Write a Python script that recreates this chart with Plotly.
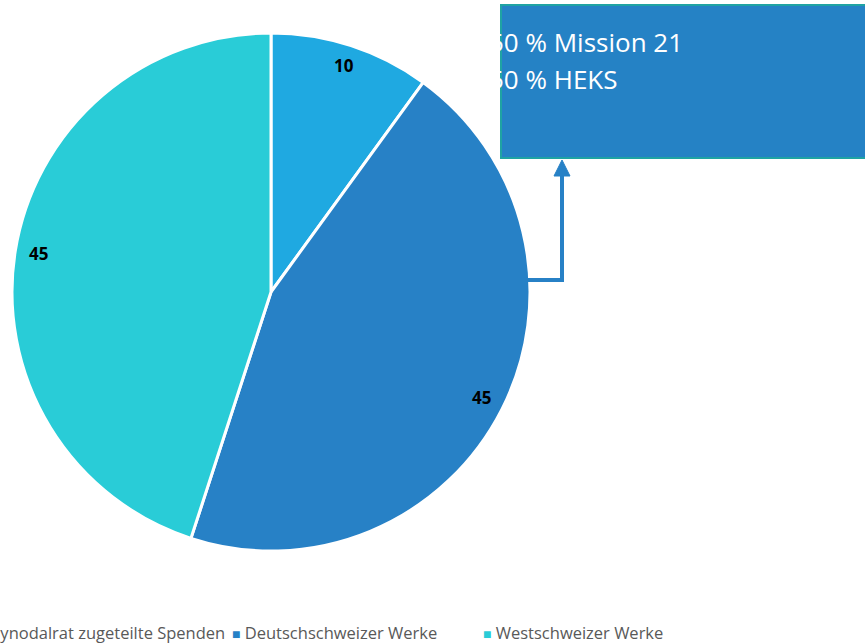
import math
import plotly.graph_objects as go

# Verteilung der Spenden (Prozent)
categories = ["Vom Synodalrat zugeteilte Spenden", "Deutschschweizer Werke", "Westschweizer Werke"]
values = [10, 45, 45]
colors = ["#1FA9E1", "#2781C6", "#29CCD7"]
callout_lines = ["50 % Mission 21", "50 % HEKS"]

W, H = 865, 643
CX, CY, R = 271, 292, 259  # pie centre and radius in pixels


def px(x):
    return x / W


def py(y):
    return 1 - y / H


fig = go.Figure(
    go.Pie(
        labels=categories,
        values=values,
        marker=dict(colors=colors, line=dict(color="white", width=3)),
        sort=False,
        direction="clockwise",
        rotation=0,
        textinfo="none",
        hoverinfo="label+value",
        showlegend=False,
        domain=dict(x=[px(CX - R), px(CX + R)], y=[py(CY + R), py(CY - R)]),
    )
)

annotations = []
shapes = []

# value labels near the outer rim of each slice
total = sum(values)
start = 0.0
for v in values:
    mid = (start + v / 2) / total * 2 * math.pi
    start += v
    lx = CX + 0.91 * R * math.sin(mid)
    ly = CY - 0.91 * R * math.cos(mid) - 2
    annotations.append(dict(
        x=px(lx), y=py(ly), xref="paper", yref="paper", text=f"<b>{v}</b>",
        showarrow=False, font=dict(family="Open Sans", size=17, color="black"),
        xanchor="center", yanchor="middle",
    ))

# callout box
shapes.append(dict(type="rect", xref="paper", yref="paper",
                   x0=px(501), x1=px(872), y0=py(158), y1=py(5),
                   fillcolor="#2582C5", line=dict(color="#1FA3A3", width=2)))
for i, t in enumerate(callout_lines):
    annotations.append(dict(
        x=px(487), y=py(42 + 37 * i), xref="paper", yref="paper", text=t,
        showarrow=False, font=dict(family="Open Sans", size=26, color="white"),
        xanchor="left", yanchor="middle",
    ))

# elbow connector from the slice to the box
shapes.append(dict(type="path", xref="paper", yref="paper",
                   path=f"M {px(528)} {py(280)} L {px(562)} {py(280)} L {px(562)} {py(174)}",
                   line=dict(color="#2781C6", width=4)))
shapes.append(dict(type="path", xref="paper", yref="paper",
                   path=f"M {px(554)} {py(176)} L {px(570)} {py(176)} L {px(562)} {py(160)} Z",
                   fillcolor="#2781C6", line=dict(color="#2781C6", width=1)))

# legend row
legend_font = dict(family="Open Sans", size=16.5, color="#595959")
sq = "<span style='color:{c};font-size:14px'>■</span> "
legend_y = 632
annotations.append(dict(x=px(226), y=py(legend_y), xref="paper", yref="paper",
                        text=categories[0], showarrow=False, borderpad=0,
                        font=legend_font, xanchor="right", yanchor="middle"))
annotations.append(dict(x=px(231), y=py(legend_y), xref="paper", yref="paper",
                        text=sq.format(c=colors[1]) + categories[1], showarrow=False, borderpad=0,
                        font=legend_font, xanchor="left", yanchor="middle"))
annotations.append(dict(x=px(482), y=py(legend_y), xref="paper", yref="paper",
                        text=sq.format(c=colors[2]) + categories[2], showarrow=False, borderpad=0,
                        font=legend_font, xanchor="left", yanchor="middle"))

fig.update_layout(
    width=W, height=H,
    margin=dict(l=0, r=0, t=0, b=0),
    paper_bgcolor="white", plot_bgcolor="white",
    annotations=annotations, shapes=shapes,
)

fig.write_html("out.html")
